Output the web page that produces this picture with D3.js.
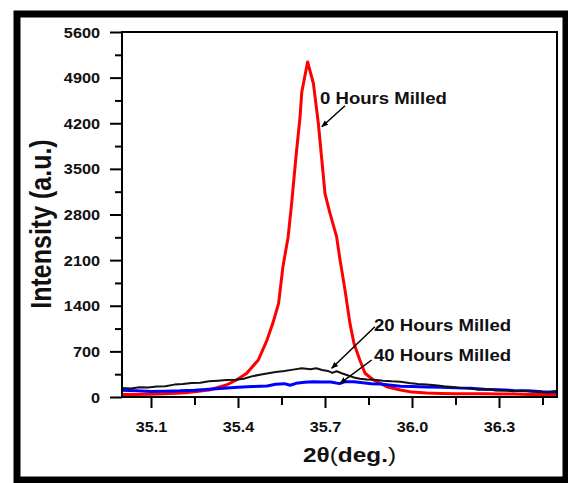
<!DOCTYPE html>
<html>
<head>
<meta charset="utf-8">
<script src="https://cdn.jsdelivr.net/npm/d3@7"></script>
<style>
  body { margin: 0; background: #fff; }
  svg text { font-family: "Liberation Sans", Arial, sans-serif; font-weight: bold; fill: #111; }
</style>
</head>
<body>
<div class="svg-point"></div>
<script>
// 0 hours milled (red)
var x0h = [35.00,35.05,35.10,35.15,35.22,35.30,35.36,35.395,35.43,35.47,35.50,35.52,35.54,35.555,35.573,35.585,35.60,35.614,35.62,35.64,35.66,35.677,35.689,35.70,35.717,35.74,35.752,35.769,35.786,35.80,35.82,35.838,35.867,35.913,35.96,36.00,36.05,36.10,36.15,36.20,36.25,36.30,36.35,36.40,36.45,36.50];
var y0h = [40,40,42,48,66,107,184,261,364,568,874,1130,1437,2000,2460,2970,3690,4300,4680,5140,4810,4200,3640,3120,2820,2460,2100,1640,1130,820,568,364,261,158,107,75,60,55,50,50,48,45,45,40,40,38];

// 20 hours milled (black)
var x20h = [35.00,35.03,35.06,35.09,35.12,35.15,35.18,35.21,35.24,35.27,35.30,35.33,35.36,35.39,35.42,35.45,35.48,35.50,35.53,35.56,35.59,35.62,35.65,35.67,35.69,35.71,35.725,35.74,35.76,35.78,35.80,35.82,35.845,35.87,35.90,35.93,35.96,35.99,36.02,36.05,36.08,36.11,36.14,36.17,36.20,36.23,36.26,36.29,36.32,36.35,36.38,36.41,36.44,36.47,36.50];
var y20h = [140,130,150,145,160,165,190,200,215,220,240,250,260,265,280,320,345,360,385,400,420,440,425,440,415,400,370,395,360,330,300,280,270,265,250,240,235,215,200,190,180,165,155,140,135,110,120,100,105,90,95,85,80,70,95];

// 40 hours milled (blue)
var x40h = [35.00,35.05,35.10,35.15,35.20,35.25,35.30,35.35,35.40,35.45,35.50,35.53,35.56,35.58,35.60,35.63,35.66,35.69,35.72,35.75,35.77,35.80,35.83,35.86,35.89,35.92,35.96,36.00,36.05,36.10,36.15,36.20,36.25,36.30,36.35,36.40,36.45,36.50];
var y40h = [105,95,85,90,95,105,120,135,150,160,170,195,205,180,210,225,235,230,230,205,235,235,220,205,200,185,165,160,155,150,140,135,120,110,100,95,80,75];

var yMajor = [0,700,1400,2100,2800,3500,4200,4900,5600];
var yMinor = [350,1050,1750,2450,3150,3850,4550,5250];
var xMajor = [35.1,35.4,35.7,36.0,36.3];
var xMinor = [35.25,35.55,35.85,36.15,36.45];

var W = 568, H = 483;
var pL = 122, pT = 32, pR = 557, pB = 397;
var sx = 1.16; // horizontal stretch of the original figure

var x = d3.scaleLinear().domain([35.0, 36.5]).range([pL, pR]);
var y = d3.scaleLinear().domain([0, 5600]).range([pB, pT]);

var svg = d3.select(".svg-point").append("svg")
	.attr("width", W)
	.attr("height", H);

// outer border
svg.append("rect")
	.attr("x", 17).attr("y", 14)
	.attr("width", 549).attr("height", 466)
	.attr("fill", "#fff")
	.attr("stroke", "#000")
	.attr("stroke-width", 7);

svg.append("clipPath").attr("id", "clip")
	.append("rect")
	.attr("x", pL).attr("y", pT)
	.attr("width", pR - pL).attr("height", pB - pT);

// minor ticks
svg.append("g")
	.attr("transform", "translate(" + pL + ",0)")
	.call(d3.axisLeft(y).tickValues(yMinor).tickSize(7).tickSizeOuter(0).tickFormat(""))
	.call(function(g) { g.select(".domain").remove(); });
svg.append("g")
	.attr("transform", "translate(0," + pB + ")")
	.call(d3.axisBottom(x).tickValues(xMinor).tickSize(8).tickSizeOuter(0).tickFormat(""))
	.call(function(g) { g.select(".domain").remove(); });

// major ticks + labels
var yAxis = svg.append("g")
	.attr("transform", "translate(" + pL + ",0)")
	.call(d3.axisLeft(y).tickValues(yMajor).tickSize(12).tickSizeOuter(0).tickFormat(d3.format("d")));
yAxis.select(".domain").remove();
yAxis.selectAll("text")
	.attr("x", -19)
	.attr("dy", "0.36em")
	.attr("transform", "scale(" + sx + ",1)")
	.style("font-size", "14px");

var xAxis = svg.append("g")
	.attr("transform", "translate(0," + pB + ")")
	.call(d3.axisBottom(x).tickValues(xMajor).tickSize(11).tickSizeOuter(0).tickFormat(d3.format(".1f")));
xAxis.select(".domain").remove();
xAxis.selectAll("text")
	.attr("y", 35)
	.attr("dy", 0)
	.attr("transform", "scale(" + sx + ",1)")
	.style("font-size", "14px");

svg.selectAll(".tick line").attr("stroke", "#000").attr("stroke-width", 2);
svg.selectAll(".tick text").attr("fill", "#111");

// lines
var line = d3.line()
	.x(function(d) { return x(d[0]); })
	.y(function(d) { return y(d[1]); });

var series = [
	{xs: x0h, ys: y0h, color: "#ff0000", w: 3},
	{xs: x40h, ys: y40h, color: "#0000ff", w: 3},
	{xs: x20h, ys: y20h, color: "#111", w: 2}
];

svg.append("g").attr("clip-path", "url(#clip)")
	.selectAll("path")
	.data(series)
	.enter().append("path")
	.attr("d", function(s) { return line(s.xs.map(function(v, i) { return [v, s.ys[i]]; })); })
	.attr("fill", "none")
	.attr("stroke", function(s) { return s.color; })
	.attr("stroke-width", function(s) { return s.w; })
	.attr("stroke-linejoin", "round");

// plot frame
svg.append("rect")
	.attr("x", pL).attr("y", pT)
	.attr("width", pR - pL).attr("height", pB - pT)
	.attr("fill", "none")
	.attr("stroke", "#000")
	.attr("stroke-width", 2);

// annotations
var notes = [
	{text: "0 Hours Milled", tx: 35.683, ty: 4496, x1: 35.769, y1: 4468, x2: 35.689, y2: 4146},
	{text: "20 Hours Milled", tx: 35.869, ty: 1012, x1: 35.872, y1: 1078, x2: 35.723, y2: 440},
	{text: "40 Hours Milled", tx: 35.869, ty: 552, x1: 35.861, y1: 568, x2: 35.752, y2: 210}
];

svg.append("defs").append("marker")
	.attr("id", "arrow")
	.attr("viewBox", "0 0 10 10")
	.attr("refX", 9).attr("refY", 5)
	.attr("markerWidth", 7).attr("markerHeight", 7)
	.attr("markerUnits", "userSpaceOnUse")
	.attr("orient", "auto")
	.append("path")
	.attr("d", "M0,1L10,5L0,9Z")
	.attr("fill", "#000");

svg.selectAll(".note-line")
	.data(notes)
	.enter().append("line")
	.attr("class", "note-line")
	.attr("x1", function(d) { return x(d.x1); })
	.attr("y1", function(d) { return y(d.y1); })
	.attr("x2", function(d) { return x(d.x2); })
	.attr("y2", function(d) { return y(d.y2); })
	.attr("stroke", "#000")
	.attr("stroke-width", 1.5)
	.attr("marker-end", "url(#arrow)");

svg.selectAll(".note-text")
	.data(notes)
	.enter().append("text")
	.attr("class", "note-text")
	.attr("transform", function(d) { return "translate(" + x(d.tx) + "," + y(d.ty) + ") scale(" + sx + ",1)"; })
	.style("font-size", "16px")
	.text(function(d) { return d.text; });

// axis titles
svg.append("text")
	.attr("transform", "translate(51,224) scale(" + sx + ",1) rotate(-90)")
	.attr("text-anchor", "middle")
	.style("font-size", "25px")
	.text("Intensity (a.u.)");

var xt = svg.append("text")
	.attr("transform", "translate(" + ((pL + pR) / 2 + 10) + ",462) scale(" + sx + ",1)")
	.attr("text-anchor", "middle")
	.style("font-size", "21px");
xt.append("tspan").text("2θ");
xt.append("tspan").style("font-weight", "normal").text("(");
xt.append("tspan").text("deg.");
xt.append("tspan").style("font-weight", "normal").text(")");
</script>
</body>
</html>
